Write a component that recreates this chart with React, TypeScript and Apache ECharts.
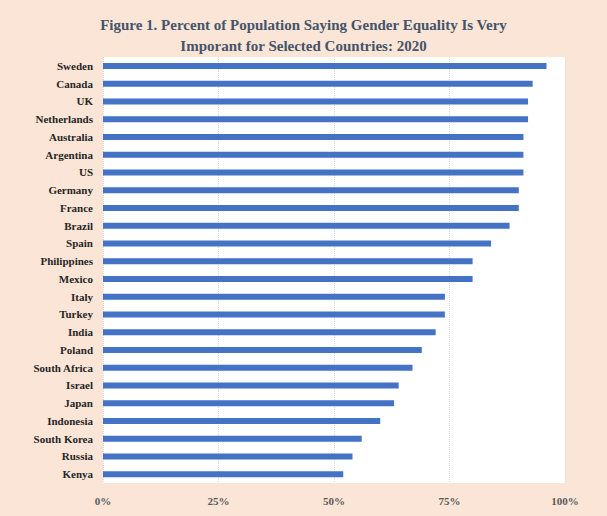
import { useEffect, useRef } from 'react';
import * as echarts from 'echarts';

const countries = ['Sweden', 'Canada', 'UK', 'Netherlands', 'Australia', 'Argentina', 'US', 'Germany', 'France', 'Brazil', 'Spain', 'Philippines', 'Mexico', 'Italy', 'Turkey', 'India', 'Poland', 'South Africa', 'Israel', 'Japan', 'Indonesia', 'South Korea', 'Russia', 'Kenya'];
const shares = [96, 93, 92, 92, 91, 91, 91, 90, 90, 88, 84, 80, 80, 74, 74, 72, 69, 67, 64, 63, 60, 56, 54, 52];

const App = () => {
    const chartRef = useRef<HTMLDivElement | null>(null);
    useEffect(() => {
        document.body.style.margin = '0';
        if (!chartRef.current) return;
        const chart = echarts.init(chartRef.current, null, { renderer: 'svg' });
        const font = 'Times New Roman, Liberation Serif, serif';
        chart.setOption({
            animation: false,
            backgroundColor: '#fbe5d6',
            title: {
                text: 'Figure 1. Percent of Population Saying Gender Equality Is Very\nImporant for Selected Countries: 2020',
                left: 'center',
                top: 9,
                textStyle: { fontFamily: font, fontSize: 15, fontWeight: 'bold', color: '#44546a', lineHeight: 21 },
            },
            grid: { left: 103, right: 42, top: 57, bottom: 33, show: true, backgroundColor: '#ffffff', borderWidth: 0 },
            xAxis: {
                type: 'value', min: 0, max: 100, interval: 25,
                axisLabel: { formatter: '{value}%', fontFamily: font, fontSize: 11, fontWeight: 'bold', color: '#595959', margin: 12 },
                splitLine: { lineStyle: { color: '#d9d9d9', type: 'dotted' } },
                axisLine: { show: false }, axisTick: { show: false },
            },
            yAxis: {
                type: 'category', inverse: true, data: countries,
                axisLabel: { fontFamily: font, fontSize: 11, fontWeight: 'bold', color: '#262626', margin: 10 },
                axisLine: { show: false }, axisTick: { show: false },
            },
            series: [{
                type: 'bar', data: shares, barWidth: 6,
                itemStyle: { color: '#4472c4' },
            }],
        });
        return () => chart.dispose();
    }, []);
    return <div ref={chartRef} style={{ width: 607, height: 516 }} />;
};

export default App;
